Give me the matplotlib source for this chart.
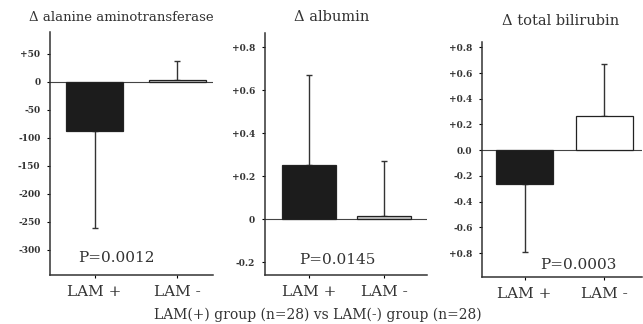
import matplotlib.pyplot as plt

plt.rcParams['font.family'] = ['DejaVu Serif']

groups = ["LAM +", "LAM -"]

# Δ alanine aminotransferase
alt_mean = [-88, 3]
alt_err = [173, 34]
alt_ticks = [50, 0, -50, -100, -150, -200, -250, -300]
alt_labels = ["+50", "0", "-50", "-100", "-150", "-200", "-250", "-300"]

# Δ albumin
alb_mean = [0.25, 0.015]
alb_err = [0.42, 0.255]
alb_ticks = [0.8, 0.6, 0.4, 0.2, 0, -0.2]
alb_labels = ["+0.8", "+0.6", "+0.4", "+0.2", "0", "-0.2"]

# Δ total bilirubin
bil_mean = [-0.26, 0.265]
bil_err = [0.53, 0.405]
bil_ticks = [0.8, 0.6, 0.4, 0.2, 0.0, -0.2, -0.4, -0.6, -0.8]
bil_labels = ["+0.8", "+0.6", "+0.4", "+0.2", "0.0", "-0.2", "-0.4", "-0.6", "+0.8"]

titles = ["\u0394 alanine aminotransferase", "\u0394 albumin", "\u0394 total bilirubin"]
pvals = ["P=0.0012", "P=0.0145", "P=0.0003"]

fig = plt.figure(figsize=(6.43, 3.24), dpi=100)

panels = [
    dict(rect=[0.078, 0.151, 0.253, 0.750], mean=alt_mean, err=alt_err,
         ticks=alt_ticks, labels=alt_labels, ylim=(-345, 89), xlim=(-0.536, 1.43),
         width=0.69, colors=["#1c1c1c", "#c4c4c4"], ptxt=(0.41, 0.07),
         ttl=(0.435, 1.045), tsize=9.5),
    dict(rect=[0.412, 0.151, 0.252, 0.747], mean=alb_mean, err=alb_err,
         ticks=alb_ticks, labels=alb_labels, ylim=(-0.26, 0.865), xlim=(-0.587, 1.573),
         width=0.72, colors=["#1c1c1c", "#c4c4c4"], ptxt=(0.45, 0.062),
         ttl=(0.41, 1.05), tsize=10.5),
    dict(rect=[0.750, 0.145, 0.248, 0.725], mean=bil_mean, err=bil_err,
         ticks=bil_ticks, labels=bil_labels, ylim=(-0.985, 0.84), xlim=(-0.53, 1.47),
         width=0.71, colors=["#1c1c1c", "white"], ptxt=(0.60, 0.05),
         ttl=(0.49, 1.072), tsize=10.5),
]

for i, p in enumerate(panels):
    ax = fig.add_axes(p["rect"])
    x = [0, 1]
    # one-sided error bars, in the direction of each bar
    lower = [e if m < 0 else 0 for m, e in zip(p["mean"], p["err"])]
    upper = [e if m >= 0 else 0 for m, e in zip(p["mean"], p["err"])]
    ax.errorbar(x, p["mean"], yerr=[lower, upper], fmt="none", ecolor="#333333",
                elinewidth=1.0, capsize=2, capthick=1.0, zorder=1)
    ax.bar(x, p["mean"], width=p["width"], color=p["colors"], edgecolor="#222222",
           linewidth=0.9, zorder=2)
    ax.axhline(0, color="#444444", linewidth=0.8, zorder=0)

    ax.set_xlim(*p["xlim"])
    ax.set_ylim(*p["ylim"])
    ax.set_yticks(p["ticks"])
    ax.set_yticklabels(p["labels"], fontsize=6.5, fontweight="bold", color="#333333")
    ax.set_xticks(x)
    ax.set_xticklabels(groups, fontsize=11, color="#333333")
    ax.tick_params(axis="y", length=2, width=0.8, pad=5)
    ax.tick_params(axis="x", length=2, width=0.8, pad=5)

    for side in ["top", "right"]:
        ax.spines[side].set_visible(False)
    for side in ["left", "bottom"]:
        ax.spines[side].set_color("#333333")
        ax.spines[side].set_linewidth(1.1)

    ax.text(p["ttl"][0], p["ttl"][1], titles[i], transform=ax.transAxes,
            ha="center", va="baseline", fontsize=p["tsize"], color="#333333")
    ax.text(p["ptxt"][0], p["ptxt"][1], pvals[i], transform=ax.transAxes,
            ha="center", va="center", fontsize=11, color="#333333")

fig.text(0.495, 0.028, "LAM(+) group (n=28) vs LAM(-) group (n=28)",
         ha="center", va="center", fontsize=10, color="#333333")

fig.savefig("out.png", dpi=100)
